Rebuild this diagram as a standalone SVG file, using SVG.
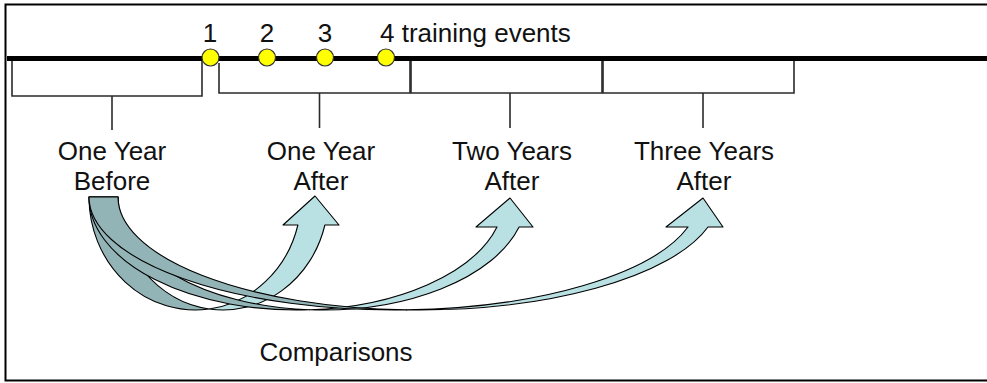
<svg xmlns="http://www.w3.org/2000/svg" width="987" height="383" viewBox="0 0 987 383">
<style>
text{font-family:"Liberation Sans",Arial,sans-serif;font-size:26px;fill:#111}
.c{text-anchor:middle}
.br{fill:none;stroke:#2a2a2a;stroke-width:1.6}
.ev{fill:#ffff00;stroke:#333;stroke-width:1.2}
.dk{fill:#93b4b6;stroke:#000;stroke-width:1.1;stroke-linejoin:round}
.lt{fill:#b9e0e3;stroke:#000;stroke-width:1.1;stroke-linejoin:round}
</style>
<rect x="0" y="0" width="987" height="383" fill="#fff"/>
<rect id="frame" x="5.5" y="4.5" width="995" height="376" fill="none" stroke="#000" stroke-width="2"/>
<g id="timeline">
<line x1="7" y1="58.5" x2="987" y2="58.5" stroke="#000" stroke-width="5"/>
</g>
<g id="period-before">
<polyline class="br" points="12,61 12,96 202,96 202,61"/>
<line class="br" x1="112" y1="96" x2="112" y2="130"/>
<text class="c" x="112" y="160">One Year</text>
<text class="c" x="112" y="190">Before</text>
</g>
<g id="period-1-after">
<polyline class="br" points="219,63 219,93 410,93 410,61"/>
<line class="br" x1="319.5" y1="93" x2="319.5" y2="128"/>
<text class="c" x="321" y="160">One Year</text>
<text class="c" x="321" y="190">After</text>
</g>
<g id="period-2-after">
<polyline class="br" points="411,61 411,93 602,93 602,61"/>
<line class="br" x1="510" y1="93" x2="510" y2="128"/>
<text class="c" x="512" y="160">Two Years</text>
<text class="c" x="512" y="190">After</text>
</g>
<g id="period-3-after">
<polyline class="br" points="603,61 603,93 794,93 794,61"/>
<line class="br" x1="703" y1="93" x2="703" y2="128"/>
<text class="c" x="704" y="160">Three Years</text>
<text class="c" x="704" y="190">After</text>
</g>
<g id="events">
<circle class="ev" cx="210.5" cy="57.5" r="8.5"/>
<circle class="ev" cx="267" cy="57.5" r="8.5"/>
<circle class="ev" cx="325" cy="57.5" r="8.5"/>
<circle class="ev" cx="386" cy="57.5" r="8.5"/>
<text class="c" x="210" y="41.5">1</text>
<text class="c" x="267" y="41.5">2</text>
<text class="c" x="325" y="41.5">3</text>
<text x="380" y="41.5">4 training events</text>
</g>
<g id="connectors">
<g id="arrow-1">
<path class="dk" d="M89,197 A106.1,113 0 0 0 209.2,309 A105.1,113 0 0 1 118,197 Z"/>
<path class="lt" d="M209.2,309 A106.1,113 0 0 0 297.9,225 L283,225 L315,196 L339,225 L324.9,225 A105.1,113 0 0 1 209.2,309 Z"/>
</g>
<g id="arrow-2">
<path class="dk" d="M89,197 A207.7,113 0 0 0 309.6,309.8 A204.2,113 0 0 1 118,197 Z"/>
<path class="lt" d="M309.6,309.8 A207.7,113 0 0 0 497,227 L476,227 L510,198 L533,227 L519.1,227 A204.2,113 0 0 1 309.6,309.8 Z"/>
</g>
<g id="arrow-3">
<path class="dk" d="M89,197 A305,113 0 0 0 406.3,309.9 A300.4,113 0 0 1 118,197 Z"/>
<path class="lt" d="M406.3,309.9 A305,113 0 0 0 688,227 L666,227 L703,198 L723,227 L708,227 A300.4,113 0 0 1 406.3,309.9 Z"/>
</g>
</g>
<g id="label-comparisons">
<text class="c" x="336" y="361">Comparisons</text>
</g>
</svg>
